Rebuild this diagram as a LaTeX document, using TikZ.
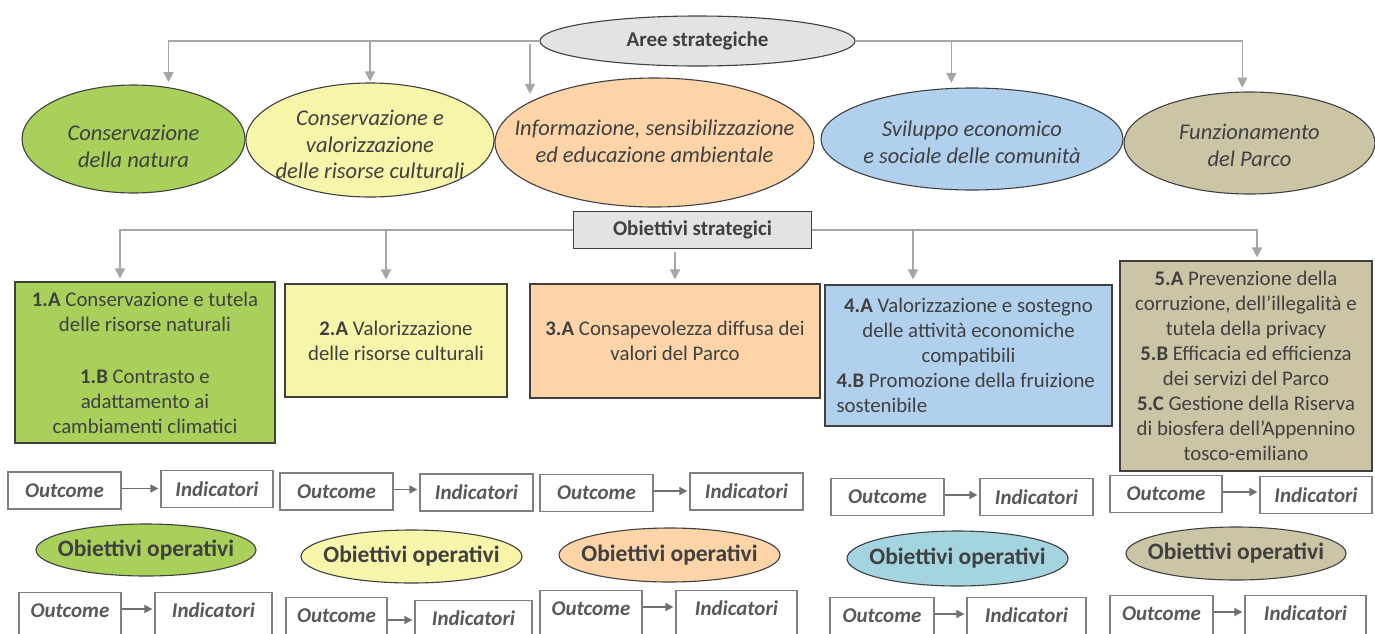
\documentclass[tikz,border=0pt]{standalone}
\usepackage{fontspec}
\setmainfont{Carlito}
\usetikzlibrary{arrows.meta,shapes.geometric,calc}
\definecolor{cgreen}{HTML}{A9D05A}
\definecolor{cyellow}{HTML}{F7F5AA}
\definecolor{corange}{HTML}{FCD4A8}
\definecolor{cblue}{HTML}{B0D0EE}
\definecolor{ctan}{HTML}{CCC5A5}
\definecolor{cteal}{HTML}{A4D4E0}
\definecolor{cgray}{HTML}{E3E3E5}
\definecolor{edge}{HTML}{404040}
\definecolor{txt}{HTML}{404040}
\definecolor{conn}{HTML}{A6A6A6}
\definecolor{obord}{HTML}{808080}
\definecolor{otxt}{HTML}{595959}
\definecolor{sarr}{HTML}{707070}
\tikzset{
  ell/.style={ellipse, draw=edge, line width=1.1pt, inner sep=0pt},
  etext/.style={inner sep=0pt, text=txt, font=\fontsize{22.5}{26.5}\selectfont\itshape, align=center},
  htext/.style={inner sep=0pt, text=txt, font=\fontsize{21}{24}\selectfont\bfseries},
  hdr/.style={draw=edge, line width=1.1pt, fill=cgray, inner sep=0pt, text=txt,
    font=\fontsize{21}{24}\selectfont\bfseries},
  objbox/.style={draw=edge, line width=1.1pt, inner sep=0pt, text=txt,
    font=\fontsize{20.8}{25}\selectfont, align=center},
  optext/.style={inner sep=0pt, text=txt, font=\fontsize{23.5}{26}\selectfont\bfseries},
  obox/.style={draw=obord, line width=1.2pt, fill=white, inner sep=0pt, text=otxt,
    font=\fontsize{21}{24}\selectfont\bfseries\itshape, minimum height=37pt},
  obot/.style={obox, anchor=north, minimum height=0pt, inner ysep=10pt,
    text height=15pt, text depth=45pt},
  garrow/.style={draw=conn, line width=1.5pt, -{Triangle[width=10pt,length=10pt]}},
  sarrow/.style={draw=sarr, line width=1.5pt, -{Triangle[width=8pt,length=8pt]}},
}
\begin{document}
\begin{tikzpicture}[x=1pt,y=-1pt]
\useasboundingbox (0,0) rectangle (1375,633);
\fill[white] (0,0) rectangle (1375,633);

% top header
\node[ell, fill=cgray, minimum width=315pt, minimum height=50pt] (aree) at (697.5,41) {};
\node[htext] (areet) at (aree) {Aree strategiche};

% strategic areas
\node[ell, fill=cgreen, minimum width=223pt, minimum height=108pt] (e1) at (133.5,139) {};
\node[ell, fill=cyellow, minimum width=248pt, minimum height=114pt] (e2) at (370,140) {};
\node[ell, fill=corange, minimum width=319pt, minimum height=129pt] (e3) at (654.5,142.5) {};
\node[ell, fill=cblue, minimum width=302pt, minimum height=102pt] (e4) at (972,139) {};
\node[ell, fill=ctan, minimum width=251pt, minimum height=102pt] (e5) at (1249.5,143) {};
\node[etext] (e1t) at (133.5,146.5) {Conservazione\\della natura};
\node[etext] (e2t) at (370,144.5) {Conservazione e\\valorizzazione\\delle risorse culturali};
\node[etext] (e3t) at (654.5,141.5) {Informazione, sensibilizzazione\\ed educazione ambientale};
\node[etext] (e4t) at (972,142.5) {Sviluppo economico\\e sociale delle comunità};
\node[etext] (e5t) at (1249.5,145.5) {Funzionamento\\del Parco};

\coordinate (a3s) at (530,44);
\draw[garrow, shorten >=5pt] (aree.west) -| (e1.56);
\draw[garrow, shorten >=1pt] (aree.west) -| (e2.north);
\draw[garrow, shorten >=8pt] (a3s) -- (a3s |- e3.162);
\draw[garrow, shorten >=5pt] (aree.east) -| (e4.112);
\draw[garrow, shorten >=4pt] (aree.east) -| (e5.98);

% strategic objectives header
\node[hdr, minimum width=238pt, minimum height=37pt] (os) at (692.5,230) {Obiettivi strategici};

% objective boxes
\node[objbox, fill=cgreen, minimum width=260pt, minimum height=161pt] (b1) at (145,362.5)
  {\textbf{1.A} Conservazione e tutela\\delle risorse naturali\\[27pt]\textbf{1.B} Contrasto e\\adattamento ai\\cambiamenti climatici};
\node[objbox, fill=cyellow, minimum width=222pt, minimum height=113pt] (b2) at (396,340.5)
  {\textbf{2.A} Valorizzazione\\delle risorse culturali};
\node[objbox, fill=corange, minimum width=290pt, minimum height=114pt] (b3) at (675,341)
  {\textbf{3.A} Consapevolezza diffusa dei\\valori del Parco};
\node[objbox, fill=cblue, minimum width=287pt, minimum height=141pt] (b4) at (968.5,355.5)
  {\textbf{4.A} Valorizzazione e sostegno\\delle attività economiche\\compatibili\\
   \makebox[264pt][l]{\textbf{4.B} Promozione della fruizione}\\
   \makebox[264pt][l]{sostenibile}};
\node[objbox, fill=ctan, minimum width=252pt, minimum height=210pt] (b5) at (1246,366)
  {\textbf{5.A} Prevenzione della\\corruzione, dell’illegalità e\\tutela della privacy\\
   \textbf{5.B} Efficacia ed efficienza\\dei servizi del Parco\\
   \textbf{5.C} Gestione della Riserva\\di biosfera dell’Appennino\\tosco-emiliano};

\draw[garrow, shorten >=3pt] (os.west) -| ([xshift=-25pt]b1.north);
\draw[garrow, shorten >=4pt] (os.west) -| ([xshift=-10pt]b2.north);
\draw[garrow, shorten >=4pt] ($(b3.north |- os.south)+(0,3)$) -- (b3.north);
\draw[garrow, shorten >=5pt] (os.east) -| ([xshift=-55.5pt]b4.north);
\draw[garrow, shorten >=3pt] (os.east) -| ([xshift=11pt]b5.north);

% outcome / indicatori, upper row
\node[obox, minimum width=113pt] (o1) at (64.5,490.5) {Outcome};
\node[obox, minimum width=112pt] (i1) at (217,489) {Indicatori};
\node[obox, minimum width=113pt] (o2) at (336.5,491.5) {Outcome};
\node[obox, minimum width=113pt] (i2) at (476.5,492.5) {Indicatori};
\node[obox, minimum width=113pt] (o3) at (596.5,493) {Outcome};
\node[obox, minimum width=113pt] (i3) at (746.5,491.5) {Indicatori};
\node[obox, minimum width=113pt] (o4) at (887.5,497) {Outcome};
\node[obox, minimum width=113pt] (i4) at (1036.5,497) {Indicatori};
\node[obox, minimum width=112pt] (o5) at (1166,494) {Outcome};
\node[obox, minimum width=112pt] (i5) at (1316,495) {Indicatori};
\foreach \k in {1,...,5}{
  \draw[sarrow, shorten >=2pt] ([yshift=2pt]o\k.east) -- ([yshift=2pt]o\k.east -| i\k.west);
}

% operational objectives
\node[ell, fill=cgreen, minimum width=220pt, minimum height=52pt] (p1) at (146,550) {};
\node[ell, fill=cyellow, minimum width=221pt, minimum height=53pt] (p2) at (411.5,556.5) {};
\node[ell, fill=corange, minimum width=221pt, minimum height=54pt] (p3) at (669.5,555) {};
\node[ell, fill=cteal, minimum width=221pt, minimum height=55pt] (p4) at (957.5,558.5) {};
\node[ell, fill=ctan, minimum width=220pt, minimum height=53pt] (p5) at (1236,553.5) {};
\foreach \k in {1,...,5}{
  \node[optext] (p\k t) at (p\k) {Obiettivi operativi};
}

% outcome / indicatori, lower row
\node[obot, minimum width=102pt] (q1) at (70,592) {Outcome};
\node[obot, minimum width=117pt] (j1) at (213.5,592) {Indicatori};
\node[obot, minimum width=101pt] (q2) at (336.5,597) {Outcome};
\node[obot, minimum width=117pt] (j2) at (473.5,600) {Indicatori};
\node[obot, minimum width=102pt] (q3) at (591,590) {Outcome};
\node[obot, minimum width=121pt] (j3) at (736.5,590) {Indicatori};
\node[obot, minimum width=104pt] (q4) at (882,597) {Outcome};
\node[obot, minimum width=119pt] (j4) at (1026.5,597) {Indicatori};
\node[obot, minimum width=103pt] (q5) at (1161.5,595) {Outcome};
\node[obot, minimum width=121pt] (j5) at (1305.5,595) {Indicatori};
\foreach \k/\d in {1/17,2/23,3/17,4/17,5/17}{
  \coordinate (qa\k) at ($(q\k.north east)+(0,\d)$);
  \draw[sarrow, shorten >=2pt] (qa\k) -- (qa\k -| j\k.west);
}
\end{tikzpicture}
\end{document}
